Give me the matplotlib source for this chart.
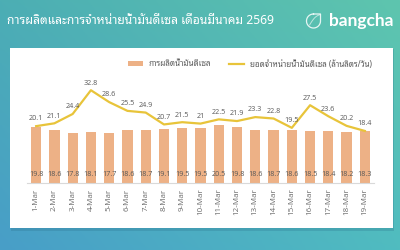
import matplotlib
matplotlib.use("Agg")
import matplotlib.pyplot as plt
import numpy as np
from matplotlib.patches import Rectangle

plt.rcParams['font.family'] = ['Noto Sans Thai Looped', 'DejaVu Sans']

dates = ["1-Mar", "2-Mar", "3-Mar", "4-Mar", "5-Mar", "6-Mar", "7-Mar", "8-Mar", "9-Mar", "10-Mar",
         "11-Mar", "12-Mar", "13-Mar", "14-Mar", "15-Mar", "16-Mar", "17-Mar", "18-Mar", "19-Mar"]
production = [19.8, 18.6, 17.8, 18.1, 17.7, 18.6, 18.7, 19.1, 19.5, 19.5,
              20.5, 19.8, 18.6, 18.7, 18.6, 18.5, 18.4, 18.2, 18.3]
sales = [20.1, 21.1, 24.4, 32.8, 28.6, 25.5, 24.9, 20.7, 21.5, 21.0,
         22.5, 21.9, 23.3, 22.8, 19.5, 27.5, 23.6, 20.2, 18.4]
title = "การผลิตและการจำหน่ายน้ำมันดีเซล เดือนมีนาคม 2569"
bar_name = "การผลิตน้ำมันดีเซล"
line_name = "ยอดจำหน่ายน้ำมันดีเซล (ล้านลิตร/วัน)"

W, H = 400, 250
fig = plt.figure(figsize=(W / 100, H / 100), dpi=100)

# background gradient
bg = fig.add_axes([0, 0, 1, 1])
tl = np.array([0x4c, 0xae, 0xb4]) / 255
tr = np.array([0x5e, 0xc5, 0xae]) / 255
bl = np.array([0x48, 0x9e, 0xc8]) / 255
br = np.array([0x50, 0xbc, 0xc0]) / 255
yy, xx = np.mgrid[0:1:100j, 0:1:160j]
img = ((1 - yy)[..., None] * ((1 - xx)[..., None] * tl + xx[..., None] * tr)
       + yy[..., None] * ((1 - xx)[..., None] * bl + xx[..., None] * br))
bg.imshow(img, extent=[0, W, H, 0], aspect='auto', origin='upper')
bg.set_xlim(0, W)
bg.set_ylim(H, 0)
bg.axis('off')

# panel shadow and panel
bg.add_patch(Rectangle((11, 49), 383, 181.5, color='#2a6f8a', alpha=0.25, lw=0))
bg.add_patch(Rectangle((10, 48), 383, 180, color='white', lw=0))

fig.text(7 / W, 1 - 20 / H, title, color='white', fontsize=8.7, va='center', ha='left')
fig.text(329 / W, 1 - 21 / H, "bangcha", color='white', fontsize=12.5, fontweight='bold',
         va='center', ha='left', family=['Lato'])
# leaf icon (teardrop with sharp top-right corner)
cx, cy, r = 313.5, 21, 7.0
ang = np.linspace(np.pi / 2, 2 * np.pi, 60)
px = np.r_[cx + r * np.cos(ang), cx + r, cx]
py = np.r_[cy - r * np.sin(ang), cy - r, cy - r]
bg.plot(px, py, color='white', lw=0.9, alpha=0.85)
tt = np.linspace(0, 1, 30)
bg.plot(cx - r * 0.55 + (r * 1.45) * tt, cy + r * 0.55 - r * 1.45 * tt - 2.0 * np.sin(np.pi * tt),
        color='white', lw=0.7, alpha=0.6)

# chart axes
left, right, bottom, top = 27, 374, 183, 84
ax = fig.add_axes([left / W, 1 - bottom / H, (right - left) / W, (bottom - top) / H])
ax.set_facecolor('none')
x = np.arange(len(dates))
bars = ax.bar(x, production, width=0.56, color='#EDB186', zorder=2, label=bar_name)
line, = ax.plot(x, sales, color='#E8C43A', lw=1.6, zorder=3, label=line_name)
for xi, v in zip(x, production):
    ax.text(xi, 1.6, f"{v:g}", ha='center', va='bottom', fontsize=5.2, color='#595959',
            family=['Open Sans'], zorder=4)
for xi, v in zip(x, sales):
    ax.text(xi, v + 1.3, f"{v:g}", ha='center', va='bottom', fontsize=5.2, color='#595959',
            family=['Open Sans'], zorder=4)
ax.set_xlim(-0.5, len(dates) - 0.5)
ax.set_ylim(0, 35)
ax.set_yticks([])
ax.set_xticks(x)
ax.set_xticklabels(dates, rotation=90, fontsize=5.8, color='#6b6b6b', family=['Open Sans'])
ax.tick_params(axis='x', length=0, pad=4)
for s in ['top', 'right', 'left']:
    ax.spines[s].set_visible(False)
ax.spines['bottom'].set_color('#d9d9d9')
ax.spines['bottom'].set_linewidth(0.8)

fig.legend(handles=[bars, line], labels=[bar_name, line_name], loc='center',
           bbox_to_anchor=(250 / W, 1 - 64 / H), ncol=2, frameon=False,
           fontsize=5.8, handlelength=1.8, handleheight=0.5, columnspacing=2.2,
           labelcolor='#595959')

fig.savefig("out.png", dpi=100)
